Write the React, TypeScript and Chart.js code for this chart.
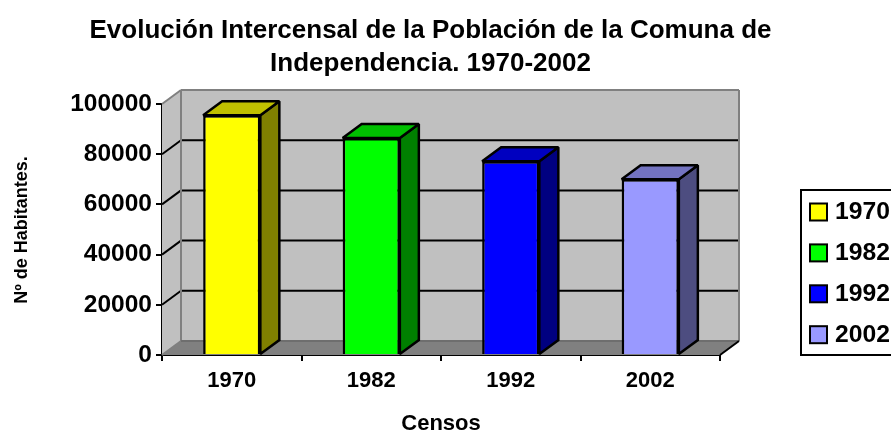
import React, { useEffect, useRef } from "react";
import { Chart, registerables } from "chart.js";

Chart.register(...registerables);

const censusYears = ["1970", "1982", "1992", "2002"];
const population = [95500, 86500, 77200, 70000];
const frontColors = ["#ffff00", "#00ff00", "#0000ff", "#9999ff"];
const topColors = ["#c0c000", "#00c000", "#0000c0", "#7373c0"];
const sideColors = ["#808000", "#008000", "#000080", "#4d4d80"];
const titleLines = ["Evolución Intercensal de la Población de la Comuna de", "Independencia. 1970-2002"];
const xAxisTitle = "Censos";
const yAxisTitle = "Nº de Habitantes.";

const FONT = '"Liberation Sans", Arial, sans-serif';
const DX = 19;
const DY = 14;

const AREA = { left: 162, top: 104, right: 720, bottom: 355 };
const LEGEND = { left: 801, top: 190, right: 893, bottom: 355 };

function poly(ctx: CanvasRenderingContext2D, pts: number[][], fill: string | null, stroke: string | null, lw = 2.5) {
  ctx.beginPath();
  pts.forEach((p, i) => (i ? ctx.lineTo(p[0], p[1]) : ctx.moveTo(p[0], p[1])));
  ctx.closePath();
  if (fill) { ctx.fillStyle = fill; ctx.fill(); }
  if (stroke) { ctx.strokeStyle = stroke; ctx.lineWidth = lw; ctx.lineJoin = "miter"; ctx.miterLimit = 1.5; ctx.stroke(); }
}

function line(ctx: CanvasRenderingContext2D, x1: number, y1: number, x2: number, y2: number, color: string, lw = 2) {
  ctx.beginPath();
  ctx.moveTo(x1, y1);
  ctx.lineTo(x2, y2);
  ctx.strokeStyle = color;
  ctx.lineWidth = lw;
  ctx.stroke();
}

const box3d = {
  id: "box3d",
  beforeDatasetsDraw(chart: any) {
    const { ctx, chartArea: a, scales } = chart;
    const y = scales.y;
    ctx.save();
    poly(ctx, [[a.left, a.top], [a.left + DX, a.top - DY], [a.left + DX, a.bottom - DY], [a.left, a.bottom]], "#c0c0c0", null);
    poly(ctx, [[a.left + DX, a.top - DY], [a.right + DX, a.top - DY], [a.right + DX, a.bottom - DY], [a.left + DX, a.bottom - DY]], "#c0c0c0", null);
    poly(ctx, [[a.left, a.bottom], [a.left + DX, a.bottom - DY], [a.right + DX, a.bottom - DY], [a.right, a.bottom]], "#808080", null);
    y.ticks.forEach((t: any) => {
      if (t.value === y.min || t.value === y.max) return;
      const py = y.getPixelForValue(t.value);
      line(ctx, a.left + DX, py - DY, a.right + DX, py - DY, "#000000");
      line(ctx, a.left, py, a.left + DX, py - DY, "#000000");
    });
    line(ctx, a.left, a.top, a.left + DX, a.top - DY, "#808080");
    line(ctx, a.left + DX, a.top - DY, a.right + DX, a.top - DY, "#808080");
    line(ctx, a.right + DX, a.top - DY, a.right + DX, a.bottom - DY, "#808080");
    line(ctx, a.left + DX, a.top - DY, a.left + DX, a.bottom - DY, "#808080");
    line(ctx, a.left, a.bottom, a.left + DX, a.bottom - DY, "#808080");
    line(ctx, a.left + DX, a.bottom - DY, a.right + DX, a.bottom - DY, "#6e6e6e");
    line(ctx, a.right, a.bottom, a.right + DX, a.bottom - DY, "#000000");
    ctx.restore();
  },
  afterDatasetsDraw(chart: any) {
    const { ctx } = chart;
    const meta = chart.getDatasetMeta(0);
    ctx.save();
    meta.data.forEach((bar: any, i: number) => {
      const l = bar.x - bar.width / 2;
      const r = bar.x + bar.width / 2;
      const t = bar.y;
      const b = bar.base;
      poly(ctx, [[r, t], [r + DX, t - DY], [r + DX, b - DY], [r, b]], sideColors[i], "#000000");
      poly(ctx, [[l, t], [l + DX, t - DY], [r + DX, t - DY], [r, t]], topColors[i], "#000000");
    });
    ctx.restore();
  },
};

const annotations = {
  id: "annotations",
  afterLayout(chart: any) {
    const tb = chart.titleBlock;
    tb.left = 0;
    tb.right = 861;
    tb.width = 861;
    tb.top = 8;
  },
  afterDraw(chart: any) {
    const { ctx } = chart;
    ctx.save();
    ctx.fillStyle = "#000000";
    ctx.textAlign = "center";
    ctx.textBaseline = "middle";
    ctx.font = `bold 22px ${FONT}`;
    ctx.fillText(xAxisTitle, 441, 424);
    ctx.save();
    ctx.translate(22, 230);
    ctx.rotate(-Math.PI / 2);
    ctx.font = `bold 18px ${FONT}`;
    ctx.fillText(yAxisTitle, 0, 0);
    ctx.restore();
    ctx.strokeStyle = "#000000";
    ctx.lineWidth = 2;
    ctx.strokeRect(LEGEND.left, LEGEND.top, LEGEND.right - LEGEND.left, LEGEND.bottom - LEGEND.top);
    ctx.textAlign = "left";
    ctx.font = `bold 24.7px ${FONT}`;
    censusYears.forEach((year, i) => {
      const cy = LEGEND.top + 22 + i * 40.9;
      ctx.fillStyle = frontColors[i];
      ctx.fillRect(810, cy - 8.5, 17, 17);
      ctx.strokeRect(810, cy - 8.5, 17, 17);
      ctx.fillStyle = "#000000";
      ctx.fillText(year, 835, cy + 0.5);
    });
    ctx.restore();
  },
};

export default function App() {
  const ref = useRef<HTMLCanvasElement>(null);
  useEffect(() => {
    const chart = new Chart(ref.current as HTMLCanvasElement, {
      type: "bar",
      data: {
        labels: censusYears,
        datasets: [
          {
            label: "Habitantes",
            data: population,
            backgroundColor: frontColors,
            borderColor: "#000000",
            borderWidth: 2.5,
            barPercentage: 1,
            categoryPercentage: 0.41,
          },
        ],
      },
      options: {
        responsive: false,
        animation: false,
        devicePixelRatio: 1,
        layout: { padding: { left: 0, top: 0, right: 891 - AREA.right, bottom: 0 } },
        plugins: {
          title: {
            display: true,
            text: titleLines,
            color: "#000000",
            font: { family: FONT, size: 26, weight: "bold", lineHeight: 1.27 },
            padding: { top: 6, bottom: AREA.top - 6 - 2 * 26 * 1.27 },
          },
          legend: { display: false },
          tooltip: { enabled: false },
        },
        scales: {
          x: {
            grid: { display: true, drawOnChartArea: false, drawTicks: true, tickLength: 6, color: "#000000", lineWidth: 2, offset: true },
            border: { display: true, color: "#000000", width: 2 },
            ticks: { color: "#000000", font: { family: FONT, size: 22, weight: "bold" }, padding: 7, maxRotation: 0 },
            afterFit: (s: any) => { s.height = 432 - AREA.bottom; },
          },
          y: {
            min: 0,
            max: 100000,
            grid: { display: true, drawOnChartArea: false, drawTicks: true, tickLength: 6, color: "#000000", lineWidth: 2 },
            border: { display: true, color: "#000000", width: 2 },
            ticks: { stepSize: 20000, color: "#000000", font: { family: FONT, size: 24.5, weight: "bold" }, padding: 4, callback: (v: any) => String(v) },
            afterFit: (s: any) => { s.width = AREA.left; },
          },
        },
      },
      plugins: [box3d, annotations],
    } as any);
    return () => chart.destroy();
  }, []);
  return (
    <div style={{ position: "fixed", left: 0, top: 0, width: 891, height: 432, overflow: "hidden", background: "#fff" }}>
      <canvas ref={ref} width={891} height={432} style={{ display: "block" }} />
    </div>
  );
}
